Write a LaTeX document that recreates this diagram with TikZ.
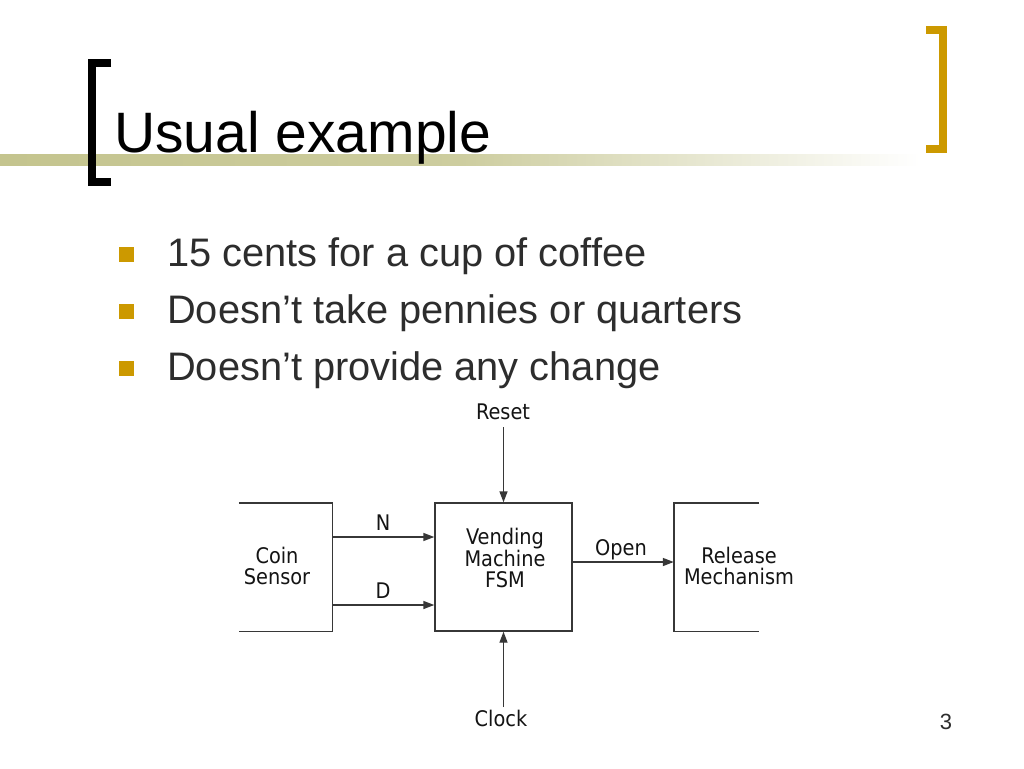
\documentclass[tikz,border=0pt]{standalone}
\usepackage{fontspec}
\setmainfont{Liberation Sans}
\newfontfamily\diagfont{DejaVu Sans Condensed}
\usetikzlibrary{arrows.meta,calc}
\definecolor{gold}{RGB}{204,153,0}
\definecolor{barcol}{RGB}{196,196,142}
\definecolor{txt}{RGB}{45,45,45}
\definecolor{ln}{RGB}{55,55,55}
\begin{document}
\begin{tikzpicture}[x=1pt,y=-1pt,
  lbl/.style={font={\diagfont\fontsize{21.5}{20.5}\selectfont}, inner sep=0pt, text=black!92, align=center, anchor=base},
  bullettext/.style={font={\fontsize{39.8}{46}\selectfont}, text=txt, inner sep=0pt, anchor=base west},
  bulletsq/.style={fill=gold, draw=none, minimum size=15pt, inner sep=0pt},
  wire/.style={draw=ln, line width=1.4pt},
  arr/.style={wire, -{Triangle[length=11pt,width=8pt]}},
  blk/.style={draw=none, inner sep=0pt, minimum height=128pt}
]
\useasboundingbox (0,0) rectangle (1024,768);
\fill[white] (0,0) rectangle (1024,768);

% title bar and brackets
\shade[left color=barcol, right color=white, middle color=barcol!85!white] (0,154) rectangle (920,165);
\draw[black, line width=8pt, line join=miter] (111,63) -- (92,63) -- (92,182) -- (111,182);
\draw[gold, line width=8pt, line join=miter] (926,30) -- (942.5,30) -- (942.5,149) -- (926,149);
\node[font={\fontsize{57}{60}\selectfont}, inner sep=0pt, anchor=base west] (title) at (114,152) {Usual example};

% bullets
\node[bulletsq] (b1) at (126,254) {};
\node[bulletsq] (b2) at (126,311) {};
\node[bulletsq] (b3) at (126,368) {};
\node[bullettext] (t1) at (167,266) {15 cents for a cup of coffee};
\node[bullettext] (t2) at (167,323) {Doesn’t take pennies or quarters};
\node[bullettext] (t3) at (167,380) {Doesn’t provide any change};

% blocks
\node[blk, minimum width=93pt] (coin) at (285.5,567) {};
\draw[wire] (coin.north west) -- (coin.north east) -- (coin.south east) -- (coin.south west);
\node[blk, minimum width=137pt, draw=ln, line width=1.4pt] (fsm) at (503.5,567) {};
\node[blk, minimum width=85pt] (rel) at (716.5,567) {};
\draw[wire] (rel.north east) -- (rel.north west) -- (rel.south west) -- (rel.south east);

\node[lbl] (coinlbl) at (277,584) {Coin\\Sensor};
\node[lbl] (fsmlbl) at (505,587) {Vending\\Machine\\FSM};
\node[lbl] (rellbl) at (739,584) {Release\\Mechanism};

% signals
\node[lbl] (reset) at (503,419) {Reset};
\node[lbl] (clock) at (501,726) {Clock};
\node[lbl] (nlbl) at (383,530) {N};
\node[lbl] (dlbl) at (383,598) {D};
\node[lbl] (openlbl) at (621,555) {Open};

\coordinate (rtop) at (503.5,427);
\coordinate (cbot) at (503.5,707);
\draw[arr] (rtop) -- (fsm.north);
\draw[arr] (cbot) -- (fsm.south);
\draw[arr] (coin.east |- 0,537) -- (fsm.west |- 0,537);
\draw[arr] (coin.east |- 0,605) -- (fsm.west |- 0,605);
\draw[arr] (fsm.east |- 0,562) -- (rel.west |- 0,562);

% page number
\node[font={\fontsize{22}{24}\selectfont}, text=txt, inner sep=0pt, anchor=base] (pg) at (946,729) {3};
\end{tikzpicture}
\end{document}
